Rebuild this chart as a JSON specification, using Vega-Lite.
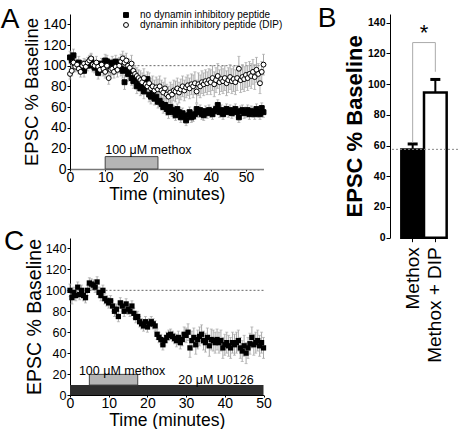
{
"$schema": "https://vega.github.io/schema/vega-lite/v6.json",
"padding": {"left": 0, "top": 5, "right": 0, "bottom": 0},
"bounds": "flush",
"columns": 2,
"spacing": {"row": 0, "column": 126},
"datasets": {
"aNo": [{"t":0,"y":108,"e":6},{"t":0.5,"y":105,"e":5},{"t":1,"y":110,"e":6},{"t":1.5,"y":102,"e":5},{"t":2,"y":100,"e":5},{"t":2.5,"y":103,"e":6},{"t":3,"y":97,"e":5},{"t":3.5,"y":99,"e":5},{"t":4,"y":95,"e":6},{"t":4.5,"y":101,"e":5},{"t":5,"y":100,"e":5},{"t":5.5,"y":103,"e":5},{"t":6,"y":106,"e":5},{"t":6.5,"y":100,"e":6},{"t":7,"y":98,"e":5},{"t":7.5,"y":100,"e":5},{"t":8,"y":93,"e":6},{"t":8.5,"y":99,"e":5},{"t":9,"y":102,"e":5},{"t":9.5,"y":96,"e":6},{"t":10,"y":105,"e":6},{"t":10.5,"y":104,"e":6},{"t":11,"y":101,"e":6},{"t":11.5,"y":98,"e":6},{"t":12,"y":103,"e":6},{"t":12.5,"y":100,"e":6},{"t":13,"y":104,"e":6},{"t":13.5,"y":100,"e":6},{"t":14,"y":102,"e":6},{"t":14.5,"y":97,"e":7},{"t":15,"y":95,"e":7},{"t":15.5,"y":84,"e":7},{"t":16,"y":96,"e":7},{"t":16.5,"y":92,"e":7},{"t":17,"y":95,"e":7},{"t":17.5,"y":88,"e":7},{"t":18,"y":85,"e":7},{"t":18.5,"y":88,"e":7},{"t":19,"y":80,"e":7},{"t":19.5,"y":83,"e":7},{"t":20,"y":78,"e":7},{"t":20.5,"y":82,"e":7},{"t":21,"y":75,"e":7},{"t":21.5,"y":80,"e":7},{"t":22,"y":87,"e":7},{"t":22.5,"y":72,"e":7},{"t":23,"y":70,"e":7},{"t":23.5,"y":75,"e":7},{"t":24,"y":68,"e":6},{"t":24.5,"y":70,"e":6},{"t":25,"y":65,"e":6},{"t":25.5,"y":66,"e":6},{"t":26,"y":63,"e":6},{"t":26.5,"y":60,"e":6},{"t":27,"y":62,"e":6},{"t":27.5,"y":58,"e":6},{"t":28,"y":55,"e":6},{"t":28.5,"y":60,"e":6},{"t":29,"y":57,"e":6},{"t":29.5,"y":55,"e":6},{"t":30,"y":52,"e":5},{"t":30.5,"y":58,"e":5},{"t":31,"y":55,"e":5},{"t":31.5,"y":50,"e":5},{"t":32,"y":54,"e":5},{"t":32.5,"y":51,"e":5},{"t":33,"y":47,"e":5},{"t":33.5,"y":52,"e":5},{"t":34,"y":55,"e":5},{"t":34.5,"y":50,"e":5},{"t":35,"y":51,"e":5},{"t":35.5,"y":53,"e":5},{"t":36,"y":58,"e":5},{"t":36.5,"y":55,"e":5},{"t":37,"y":57,"e":5},{"t":37.5,"y":53,"e":5},{"t":38,"y":52,"e":5},{"t":38.5,"y":56,"e":5},{"t":39,"y":54,"e":5},{"t":39.5,"y":57,"e":5},{"t":40,"y":55,"e":5},{"t":40.5,"y":53,"e":5},{"t":41,"y":56,"e":5},{"t":41.5,"y":58,"e":5},{"t":42,"y":62,"e":5},{"t":42.5,"y":55,"e":5},{"t":43,"y":57,"e":5},{"t":43.5,"y":53,"e":5},{"t":44,"y":56,"e":5},{"t":44.5,"y":58,"e":5},{"t":45,"y":55,"e":5},{"t":45.5,"y":57,"e":5},{"t":46,"y":54,"e":5},{"t":46.5,"y":56,"e":5},{"t":47,"y":58,"e":5},{"t":47.5,"y":55,"e":5},{"t":48,"y":50,"e":5},{"t":48.5,"y":56,"e":5},{"t":49,"y":57,"e":5},{"t":49.5,"y":54,"e":5},{"t":50,"y":55,"e":5},{"t":50.5,"y":57,"e":5},{"t":51,"y":53,"e":5},{"t":51.5,"y":56,"e":5},{"t":52,"y":55,"e":5},{"t":52.5,"y":53,"e":5},{"t":53,"y":58,"e":5},{"t":53.5,"y":55,"e":5},{"t":54,"y":53,"e":5},{"t":54.5,"y":59,"e":5},{"t":55,"y":55,"e":5}],
"aDip": [{"t":0,"y":92,"e":5},{"t":0.5,"y":95,"e":5},{"t":1,"y":103,"e":5},{"t":1.5,"y":99,"e":5},{"t":2,"y":101,"e":5},{"t":2.5,"y":97,"e":5},{"t":3,"y":94,"e":5},{"t":3.5,"y":100,"e":5},{"t":4,"y":102,"e":5},{"t":4.5,"y":99,"e":5},{"t":5,"y":103,"e":5},{"t":5.5,"y":105,"e":5},{"t":6,"y":107,"e":5},{"t":6.5,"y":101,"e":5},{"t":7,"y":100,"e":5},{"t":7.5,"y":103,"e":6},{"t":8,"y":99,"e":6},{"t":8.5,"y":96,"e":6},{"t":9,"y":101,"e":6},{"t":9.5,"y":97,"e":6},{"t":10,"y":94,"e":6},{"t":10.5,"y":100,"e":6},{"t":11,"y":88,"e":6},{"t":11.5,"y":96,"e":6},{"t":12,"y":97,"e":6},{"t":12.5,"y":94,"e":6},{"t":13,"y":99,"e":7},{"t":13.5,"y":96,"e":7},{"t":14,"y":100,"e":7},{"t":14.5,"y":104,"e":7},{"t":15,"y":107,"e":7},{"t":15.5,"y":103,"e":7},{"t":16,"y":105,"e":7},{"t":16.5,"y":100,"e":7},{"t":17,"y":98,"e":8},{"t":17.5,"y":102,"e":8},{"t":18,"y":95,"e":8},{"t":18.5,"y":92,"e":8},{"t":19,"y":90,"e":8},{"t":19.5,"y":88,"e":8},{"t":20,"y":86,"e":9},{"t":20.5,"y":84,"e":9},{"t":21,"y":88,"e":9},{"t":21.5,"y":82,"e":9},{"t":22,"y":80,"e":9},{"t":22.5,"y":83,"e":10},{"t":23,"y":78,"e":10},{"t":23.5,"y":80,"e":10},{"t":24,"y":76,"e":10},{"t":24.5,"y":79,"e":10},{"t":25,"y":77,"e":10},{"t":25.5,"y":80,"e":10},{"t":26,"y":76,"e":10},{"t":26.5,"y":74,"e":10},{"t":27,"y":78,"e":10},{"t":27.5,"y":72,"e":10},{"t":28,"y":70,"e":10},{"t":28.5,"y":74,"e":10},{"t":29,"y":72,"e":10},{"t":29.5,"y":76,"e":10},{"t":30,"y":75,"e":10},{"t":30.5,"y":78,"e":10},{"t":31,"y":74,"e":10},{"t":31.5,"y":77,"e":10},{"t":32,"y":80,"e":10},{"t":32.5,"y":76,"e":10},{"t":33,"y":79,"e":10},{"t":33.5,"y":81,"e":10},{"t":34,"y":78,"e":10},{"t":34.5,"y":82,"e":10},{"t":35,"y":80,"e":11},{"t":35.5,"y":83,"e":11},{"t":36,"y":75,"e":11},{"t":36.5,"y":82,"e":11},{"t":37,"y":80,"e":11},{"t":37.5,"y":84,"e":11},{"t":38,"y":82,"e":11},{"t":38.5,"y":85,"e":11},{"t":39,"y":83,"e":11},{"t":39.5,"y":86,"e":11},{"t":40,"y":84,"e":12},{"t":40.5,"y":88,"e":12},{"t":41,"y":82,"e":12},{"t":41.5,"y":86,"e":12},{"t":42,"y":90,"e":12},{"t":42.5,"y":84,"e":12},{"t":43,"y":87,"e":12},{"t":43.5,"y":85,"e":12},{"t":44,"y":88,"e":12},{"t":44.5,"y":83,"e":12},{"t":45,"y":86,"e":12},{"t":45.5,"y":89,"e":12},{"t":46,"y":85,"e":12},{"t":46.5,"y":87,"e":12},{"t":47,"y":84,"e":12},{"t":47.5,"y":88,"e":12},{"t":48,"y":97,"e":12},{"t":48.5,"y":86,"e":12},{"t":49,"y":89,"e":12},{"t":49.5,"y":87,"e":12},{"t":50,"y":91,"e":12},{"t":50.5,"y":88,"e":12},{"t":51,"y":92,"e":12},{"t":51.5,"y":90,"e":12},{"t":52,"y":94,"e":12},{"t":52.5,"y":89,"e":12},{"t":53,"y":96,"e":12},{"t":53.5,"y":92,"e":10},{"t":54,"y":83,"e":10},{"t":54.5,"y":94,"e":10},{"t":55,"y":101,"e":10}],
"cU": [{"t":0,"y":100,"e":6},{"t":0.5,"y":93,"e":6},{"t":1,"y":98,"e":5},{"t":1.5,"y":95,"e":5},{"t":2,"y":103,"e":5},{"t":2.5,"y":96,"e":5},{"t":3,"y":100,"e":5},{"t":3.5,"y":95,"e":5},{"t":4,"y":93,"e":5},{"t":4.5,"y":100,"e":5},{"t":5,"y":107,"e":5},{"t":5.5,"y":106,"e":5},{"t":6,"y":105,"e":5},{"t":6.5,"y":103,"e":5},{"t":7,"y":108,"e":5},{"t":7.5,"y":98,"e":5},{"t":8,"y":95,"e":5},{"t":8.5,"y":100,"e":5},{"t":9,"y":92,"e":5},{"t":9.5,"y":90,"e":5},{"t":10,"y":88,"e":5},{"t":10.5,"y":90,"e":5},{"t":11,"y":85,"e":5},{"t":11.5,"y":80,"e":5},{"t":12,"y":82,"e":5},{"t":12.5,"y":75,"e":5},{"t":13,"y":88,"e":5},{"t":13.5,"y":85,"e":5},{"t":14,"y":80,"e":5},{"t":14.5,"y":87,"e":5},{"t":15,"y":82,"e":5},{"t":15.5,"y":80,"e":5},{"t":16,"y":85,"e":5},{"t":16.5,"y":78,"e":5},{"t":17,"y":74,"e":5},{"t":17.5,"y":75,"e":5},{"t":18,"y":70,"e":5},{"t":18.5,"y":68,"e":5},{"t":19,"y":66,"e":5},{"t":19.5,"y":70,"e":5},{"t":20,"y":65,"e":5},{"t":20.5,"y":68,"e":5},{"t":21,"y":70,"e":5},{"t":21.5,"y":68,"e":5},{"t":22,"y":66,"e":5},{"t":22.5,"y":58,"e":5},{"t":23,"y":55,"e":5},{"t":23.5,"y":53,"e":5},{"t":24,"y":48,"e":5},{"t":24.5,"y":52,"e":5},{"t":25,"y":55,"e":5},{"t":25.5,"y":57,"e":5},{"t":26,"y":58,"e":5},{"t":26.5,"y":56,"e":5},{"t":27,"y":54,"e":5},{"t":27.5,"y":52,"e":6},{"t":28,"y":55,"e":6},{"t":28.5,"y":50,"e":6},{"t":29,"y":53,"e":6},{"t":29.5,"y":58,"e":7},{"t":30,"y":57,"e":7},{"t":30.5,"y":60,"e":8},{"t":31,"y":45,"e":9},{"t":31.5,"y":52,"e":9},{"t":32,"y":55,"e":9},{"t":32.5,"y":48,"e":9},{"t":33,"y":53,"e":9},{"t":33.5,"y":56,"e":9},{"t":34,"y":58,"e":9},{"t":34.5,"y":52,"e":9},{"t":35,"y":50,"e":9},{"t":35.5,"y":55,"e":9},{"t":36,"y":47,"e":10},{"t":36.5,"y":53,"e":10},{"t":37,"y":52,"e":10},{"t":37.5,"y":50,"e":10},{"t":38,"y":53,"e":10},{"t":38.5,"y":50,"e":10},{"t":39,"y":52,"e":10},{"t":39.5,"y":45,"e":10},{"t":40,"y":48,"e":10},{"t":40.5,"y":50,"e":10},{"t":41,"y":47,"e":10},{"t":41.5,"y":45,"e":10},{"t":42,"y":50,"e":10},{"t":42.5,"y":48,"e":10},{"t":43,"y":50,"e":10},{"t":43.5,"y":52,"e":10},{"t":44,"y":45,"e":10},{"t":44.5,"y":42,"e":10},{"t":45,"y":47,"e":10},{"t":45.5,"y":40,"e":10},{"t":46,"y":45,"e":10},{"t":46.5,"y":49,"e":10},{"t":47,"y":55,"e":10},{"t":47.5,"y":48,"e":10},{"t":48,"y":50,"e":10},{"t":48.5,"y":52,"e":10},{"t":49,"y":47,"e":10},{"t":49.5,"y":50,"e":10},{"t":50,"y":45,"e":10}],
"bars": [{"g":"Methox","v":57.4,"hi":61},{"g":"Methox + DIP","v":94.5,"hi":103}],
"bracket": [{"g":"Methox","y":62,"o":1},{"g":"Methox","y":127,"o":2},{"g":"Methox + DIP","y":127,"o":3},{"g":"Methox + DIP","y":108,"o":4}],
"one": [{}]
},
"concat": [
{
"width": 193.5,
"height": 155,
"title": {"text": "A", "anchor": "start", "frame": "group", "fontSize": 28, "fontWeight": "normal", "baseline": "top", "offset": 0, "dx": -69.3, "dy": 20},
"layer": [
{"data": {"name": "one"}, "mark": {"type": "rule", "color": "#666", "strokeDash": [2, 2], "strokeWidth": 1}, "encoding": {"y": {"datum": 100, "type": "quantitative", "title": "EPSC % Baseline"}}},
{"data": {"name": "one"}, "mark": {"type": "rect", "fill": "#b5b5b5", "stroke": "#444", "strokeWidth": 1}, "encoding": {"x": {"datum": 10, "type": "quantitative", "title": "Time (minutes)"}, "x2": {"datum": 25}, "y": {"datum": 0, "type": "quantitative", "title": "EPSC % Baseline"}, "y2": {"datum": 12}}},
{"data": {"name": "one"}, "mark": {"type": "text", "text": "100 μM methox", "align": "left", "baseline": "alphabetic", "fontSize": 12.5, "color": "#000"}, "encoding": {"x": {"datum": 10, "type": "quantitative", "title": "Time (minutes)"}, "y": {"datum": 15, "type": "quantitative", "title": "EPSC % Baseline"}}},
{"data": {"name": "aNo"}, "mark": {"type": "errorbar", "ticks": {"size": 3}, "color": "#aaa", "thickness": 1},
 "encoding": {
  "x": {"field": "t", "type": "quantitative", "title": "Time (minutes)", "scale": {"domain": [0, 55], "nice": false}, "axis": {"values": [0, 10, 20, 30, 40, 50], "tickCount": 30, "labelOverlap": false, "labelFontSize": 14, "tickSize": 2, "labelPadding": -1, "titleFontSize": 17.5, "titlePadding": 1, "domainColor": "#777", "domainWidth": 1.5, "labelFlush": false}},
  "y": {"field": "y", "type": "quantitative", "title": "EPSC % Baseline", "scale": {"domain": [0, 150], "nice": false}, "axis": {"values": [0, 20, 40, 60, 80, 100, 120, 140], "tickCount": 30, "labelOverlap": false, "labelFontSize": 14, "tickSize": 3, "labelPadding": 1, "titleFontSize": 18.5, "titlePadding": 1}},
  "yError": {"field": "e"}}},
{"data": {"name": "aDip"}, "mark": {"type": "errorbar", "ticks": {"size": 3}, "color": "#aaa", "thickness": 1},
 "encoding": {"x": {"field": "t", "type": "quantitative", "title": "Time (minutes)"}, "y": {"field": "y", "type": "quantitative", "title": "EPSC % Baseline"}, "yError": {"field": "e"}}},
{"data": {"name": "aNo"}, "mark": {"type": "point", "filled": true, "size": 24, "stroke": "#000", "strokeWidth": 1, "opacity": 1},
 "encoding": {"x": {"field": "t", "type": "quantitative", "title": "Time (minutes)"}, "y": {"field": "y", "type": "quantitative", "title": "EPSC % Baseline"},
  "shape": {"datum": "no dynamin inhibitory peptide", "scale": {"domain": ["no dynamin inhibitory peptide", "dynamin inhibitory peptide (DIP)"], "range": ["square", "circle"]}, "legend": {"title": null, "orient": "none", "legendX": 51, "legendY": -4, "labelFontSize": 10, "labelOffset": 9, "rowPadding": 0, "padding": 0, "symbolSize": 24, "symbolStrokeWidth": 1, "labelLimit": 300, "encode": {"symbols": {"update": {"stroke": {"value": "#000"}, "strokeWidth": {"value": 1}, "opacity": {"value": 1}, "fill": {"signal": "datum.index === 0 ? '#000' : '#fff'"}}}}}},
  "fill": {"datum": "no dynamin inhibitory peptide", "scale": {"domain": ["no dynamin inhibitory peptide", "dynamin inhibitory peptide (DIP)"], "range": ["#000", "#fff"]}, "legend": null}}},
{"data": {"name": "aDip"}, "mark": {"type": "point", "filled": true, "size": 24, "stroke": "#000", "strokeWidth": 1, "opacity": 1},
 "encoding": {"x": {"field": "t", "type": "quantitative", "title": "Time (minutes)"}, "y": {"field": "y", "type": "quantitative", "title": "EPSC % Baseline"},
  "shape": {"datum": "dynamin inhibitory peptide (DIP)"},
  "fill": {"datum": "dynamin inhibitory peptide (DIP)"}}}
]
},
{
"width": 68,
"height": 223.7,
"title": {"text": "B", "anchor": "start", "frame": "group", "fontSize": 28, "fontWeight": "normal", "baseline": "top", "offset": 0, "dx": -72.3, "dy": 19},
"layer": [
{"data": {"name": "bars"}, "mark": {"type": "bar", "stroke": "#000", "strokeWidth": 2.5},
 "encoding": {
  "x": {"field": "g", "type": "nominal", "sort": null, "title": null, "scale": {"paddingInner": 0, "paddingOuter": 0.5}, "axis": {"labelAngle": -90, "labelFontSize": 19, "labelPadding": 5, "tickSize": 4, "domain": false}},
  "y": {"field": "v", "type": "quantitative", "title": "EPSC % Baseline", "scale": {"domain": [0, 145.6], "nice": false}, "axis": {"values": [0, 20, 40, 60, 80, 100, 120, 140], "tickCount": 30, "labelOverlap": false, "labelFontSize": 10.5, "labelFontWeight": "bold", "tickSize": 4, "labelPadding": 1, "titleFontSize": 22, "titleFontWeight": "bold", "titlePadding": 1}},
  "fill": {"condition": {"test": "datum.g === 'Methox'", "value": "#000"}, "value": "#fff"}}},
{"data": {"name": "bars"}, "mark": {"type": "rule", "color": "#000", "strokeWidth": 2}, "encoding": {"x": {"field": "g", "type": "nominal", "sort": null, "title": null}, "y": {"field": "v", "type": "quantitative", "title": "EPSC % Baseline"}, "y2": {"field": "hi"}}},
{"data": {"name": "bars"}, "mark": {"type": "tick", "color": "#000", "thickness": 3, "size": 10, "opacity": 1}, "encoding": {"x": {"field": "g", "type": "nominal", "sort": null, "title": null}, "y": {"field": "hi", "type": "quantitative", "title": "EPSC % Baseline"}}},
{"data": {"name": "one"}, "mark": {"type": "rule", "color": "#888", "strokeDash": [2, 2], "strokeWidth": 1}, "encoding": {"y": {"datum": 57.5, "type": "quantitative", "title": "EPSC % Baseline"}}},
{"data": {"name": "bracket"}, "mark": {"type": "line", "color": "#aaa", "strokeWidth": 1}, "encoding": {"x": {"field": "g", "type": "nominal", "sort": null, "title": null}, "y": {"field": "y", "type": "quantitative", "title": "EPSC % Baseline"}, "order": {"field": "o"}}},
{"data": {"name": "one"}, "mark": {"type": "text", "text": "*", "fontSize": 22, "baseline": "alphabetic", "align": "center", "color": "#000"}, "encoding": {"x": {"datum": "Methox", "type": "nominal", "bandPosition": 1, "title": null}, "y": {"datum": 129, "type": "quantitative", "title": "EPSC % Baseline"}}}
]
},
{
"width": 193.5,
"height": 157,
"title": {"text": "C", "anchor": "start", "frame": "group", "fontSize": 28, "fontWeight": "normal", "baseline": "top", "offset": 0, "dx": -66, "dy": 18},
"layer": [
{"data": {"name": "one"}, "mark": {"type": "rule", "color": "#666", "strokeDash": [2, 2], "strokeWidth": 1}, "encoding": {"y": {"datum": 100, "type": "quantitative", "title": "EPSC % Baseline"}}},
{"data": {"name": "one"}, "mark": {"type": "rect", "fill": "#2e2e2e"}, "encoding": {"x": {"datum": 0, "type": "quantitative", "title": "Time (minutes)"}, "x2": {"datum": 50}, "y": {"datum": 0, "type": "quantitative", "title": "EPSC % Baseline"}, "y2": {"datum": 9.5}}},
{"data": {"name": "one"}, "mark": {"type": "rect", "fill": "#b5b5b5", "stroke": "#444", "strokeWidth": 1}, "encoding": {"x": {"datum": 5, "type": "quantitative", "title": "Time (minutes)"}, "x2": {"datum": 17.5}, "y": {"datum": 9.5, "type": "quantitative", "title": "EPSC % Baseline"}, "y2": {"datum": 19.7}}},
{"data": {"name": "one"}, "mark": {"type": "text", "text": "100 μM methox", "align": "left", "baseline": "alphabetic", "fontSize": 12.5, "color": "#000"}, "encoding": {"x": {"datum": 2.3, "type": "quantitative", "title": "Time (minutes)"}, "y": {"datum": 19, "type": "quantitative", "title": "EPSC % Baseline"}}},
{"data": {"name": "one"}, "mark": {"type": "text", "text": "20 μM U0126", "align": "left", "baseline": "alphabetic", "fontSize": 12.5, "color": "#000"}, "encoding": {"x": {"datum": 28, "type": "quantitative", "title": "Time (minutes)"}, "y": {"datum": 10.8, "type": "quantitative", "title": "EPSC % Baseline"}}},
{"data": {"name": "cU"}, "mark": {"type": "errorbar", "ticks": {"size": 3}, "color": "#aaa", "thickness": 1},
 "encoding": {
  "x": {"field": "t", "type": "quantitative", "title": "Time (minutes)", "scale": {"domain": [0, 50], "nice": false}, "axis": {"values": [0, 10, 20, 30, 40, 50], "tickCount": 30, "labelOverlap": false, "labelFontSize": 14, "tickSize": 2, "labelPadding": -1, "titleFontSize": 17.5, "titlePadding": 1, "labelFlush": false}},
  "y": {"field": "y", "type": "quantitative", "title": "EPSC % Baseline", "scale": {"domain": [0, 150], "nice": false}, "axis": {"values": [0, 20, 40, 60, 80, 100, 120, 140], "tickCount": 30, "labelOverlap": false, "labelFontSize": 12.5, "tickSize": 3, "labelPadding": 1, "titleFontSize": 19.5, "titlePadding": 1}},
  "yError": {"field": "e"}}},
{"data": {"name": "cU"}, "mark": {"type": "point", "shape": "square", "filled": true, "size": 28, "color": "#000", "opacity": 1},
 "encoding": {"x": {"field": "t", "type": "quantitative", "title": "Time (minutes)"}, "y": {"field": "y", "type": "quantitative", "title": "EPSC % Baseline"}}}
]
}
],
"config": {
"font": "Liberation Sans",
"view": {"stroke": null},
"title": {"font": "Liberation Sans", "color": "#000"},
"axis": {"grid": false, "labelOverlap": false, "domainColor": "#000", "tickColor": "#000", "labelColor": "#000", "titleColor": "#000", "titleFontWeight": "normal", "labelFont": "Liberation Sans", "titleFont": "Liberation Sans"},
"legend": {"labelFont": "Liberation Sans", "labelColor": "#000"}
}
}
